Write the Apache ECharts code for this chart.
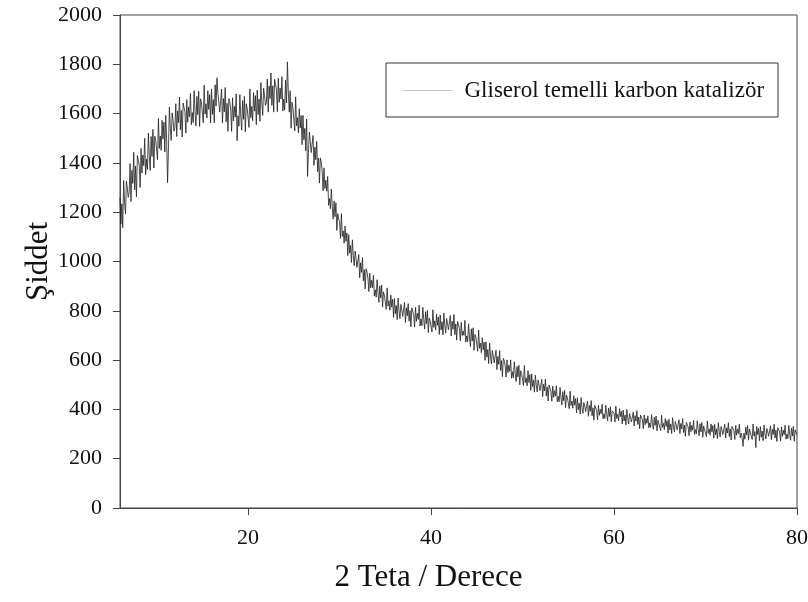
<!DOCTYPE html>
<html>
<head>
<meta charset="utf-8">
<script src="https://cdn.jsdelivr.net/npm/echarts@6/dist/echarts.min.js"></script>
<style>
html,body{margin:0;padding:0;background:#fff;}
#chart{width:808px;height:602px;}
</style>
</head>
<body>
<div id="chart"></div>
<script>
// Sampling grid of the diffractogram (2θ, degrees)
var startAngle = 6;
var stepAngle = 0.1;
var seriesName = 'Gliserol temelli karbon katalizör';
var xTickValues = [20, 40, 60, 80];
var yTickValues = [0, 200, 400, 600, 800, 1000, 1200, 1400, 1600, 1800, 2000];
// Intensity, one row per degree (10 samples each), 6° .. 80°
var intensity = [
1260,1152,1234,1137,1329,1241,1193,1326,1298,1260,
1280,1397,1243,1370,1317,1443,1290,1387,1263,1430,
1423,1391,1300,1459,1359,1432,1389,1500,1352,1415,
1373,1521,1430,1369,1507,1426,1536,1379,1508,1494,
1498,1413,1580,1459,1509,1451,1573,1497,1565,1444,
1593,1489,1320,1461,1627,1541,1491,1603,1571,1529,
1544,1640,1507,1611,1563,1667,1534,1613,1505,1643,
1638,1606,1521,1657,1565,1627,1587,1682,1555,1604,
1564,1693,1608,1550,1670,1596,1691,1548,1660,1645,
1647,1563,1716,1598,1640,1582,1693,1617,1677,1562,
1700,1597,1657,1563,1717,1631,1745,1683,1649,1606,
1609,1700,1562,1661,1607,1706,1567,1642,1528,1661,
1648,1614,1528,1664,1570,1629,1586,1680,1490,1591,
1549,1677,1591,1533,1653,1577,1670,1526,1640,1622,
1627,1544,1700,1583,1629,1571,1685,1610,1673,1555,
1695,1596,1659,1569,1726,1644,1593,1703,1672,1633,
1644,1740,1606,1712,1661,1765,1633,1713,1606,1739,
1733,1697,1608,1743,1646,1704,1659,1750,1611,1659,
1614,1735,1643,1810,1689,1606,1693,1541,1646,1622,
1616,1530,1668,1550,1584,1522,1620,1542,1592,1474,
1593,1494,1540,1449,1578,1345,1442,1525,1488,1442,
1444,1511,1390,1464,1413,1487,1365,1419,1318,1420,
1403,1365,1287,1380,1296,1330,1285,1345,1228,1255,
1214,1294,1224,1172,1246,1182,1238,1126,1194,1172,
1162,1094,1194,1102,1124,1074,1144,1082,1116,1024,
1109,1034,1065,996,1088,1024,983,1042,1012,976,
973,1028,934,995,956,1016,922,967,889,971,
957,932,878,953,893,924,894,944,860,885,
855,926,873,834,901,852,904,815,877,863,
860,806,893,819,841,802,864,815,847,773,
850,788,821,764,852,800,768,826,804,777,
780,834,753,812,780,829,758,801,735,812,
805,784,734,814,757,790,765,823,738,767,
740,814,764,726,796,748,801,712,771,759,
765,714,804,733,759,722,787,741,775,704,
783,722,756,702,791,740,710,769,749,723,
727,781,698,758,725,785,703,747,681,757,
750,729,678,753,700,718,700,761,673,698,
675,747,694,655,727,677,731,640,704,692,
690,636,722,648,669,630,691,642,673,599,
674,612,643,586,669,617,585,639,617,589,
591,640,561,615,583,638,558,598,533,607,
598,577,531,601,549,579,554,601,527,553,
528,593,546,513,574,532,579,500,557,546,
544,497,578,509,528,496,557,509,541,477,
544,492,518,470,539,500,471,519,499,476,
477,522,452,502,475,523,454,491,434,499,
492,474,433,495,449,476,454,496,431,453,
431,489,448,418,472,435,477,407,458,448,
445,403,474,416,434,405,455,417,444,386,
447,399,425,381,448,408,384,428,412,391,
394,434,372,416,392,436,374,407,356,416,
410,395,358,416,376,400,382,421,362,382,
363,417,380,354,405,371,411,350,394,386,
385,349,413,363,380,354,403,371,392,341,
397,353,377,337,400,363,341,383,368,349,
351,389,333,375,352,395,339,369,322,377,
373,358,322,378,338,363,344,374,325,345,
327,379,343,319,368,335,373,313,356,350,
349,314,376,327,343,318,363,331,355,304,
360,317,341,302,366,330,308,351,336,317,
319,358,302,343,321,363,306,336,291,347,
343,329,293,349,310,335,316,355,298,318,
301,354,318,293,342,309,347,287,332,325,
325,289,353,303,321,295,341,309,334,283,
340,297,321,282,346,310,288,331,316,298,
301,340,284,325,304,346,290,321,276,331,
328,314,278,335,295,320,302,340,284,304,
287,250,304,279,328,296,335,275,320,313,
313,278,341,292,310,245,331,298,323,273,
330,287,312,273,337,301,280,323,309,291,
294,333,277,319,298,340,284,316,270,326,
322,308,272,329,290,315,297,336,279,300,
282,335,299,275,324,292,331,271,317,310,
298
];

var seriesData = intensity.map(function (v, i) {
  return [Math.round((startAngle + i * stepAngle) * 10) / 10, v];
});

var serif = 'Liberation Serif, Times New Roman, serif';
var chart = echarts.init(document.getElementById('chart'), null, {renderer: 'canvas'});
chart.setOption({
  animation: false,
  backgroundColor: '#ffffff',
  grid: {
    left: 120, right: 11, top: 15, bottom: 94,
    show: true, borderColor: '#444', borderWidth: 1,
    outerBoundsMode: 'none'
  },
  legend: {
    left: 386, top: 63,
    padding: [16, 14, 15, 16],
    borderColor: '#333', borderWidth: 1,
    backgroundColor: '#fff',
    itemWidth: 50, itemHeight: 14,
    itemStyle: {opacity: 0},
    lineStyle: {color: '#c4c4c4', width: 1},
    textStyle: {fontFamily: serif, fontSize: 23, color: '#111', padding: [0, 0, 0, 7]},
    data: [seriesName]
  },
  xAxis: {
    type: 'value',
    min: startAngle, max: 80,
    name: '2 Teta / Derece',
    nameLocation: 'middle', nameGap: 54,
    nameMoveOverlap: false,
    nameTextStyle: {fontFamily: serif, fontSize: 31, color: '#111', padding: [0, 60, 0, 0]},
    axisLine: {show: true, lineStyle: {color: '#444', width: 1}},
    axisTick: {show: true, length: 7, lineStyle: {color: '#444'}, customValues: xTickValues},
    axisLabel: {fontFamily: serif, fontSize: 22, color: '#111', margin: 19, customValues: xTickValues},
    splitLine: {show: false}
  },
  yAxis: {
    type: 'value',
    min: 0, max: 2000, interval: 200,
    name: 'Şiddet',
    nameLocation: 'middle', nameGap: 66, nameRotate: 90,
    nameMoveOverlap: false,
    nameTextStyle: {fontFamily: serif, fontSize: 31, color: '#111'},
    axisLine: {show: true, lineStyle: {color: '#444', width: 1}},
    axisTick: {show: true, length: 7, lineStyle: {color: '#444'}, customValues: yTickValues},
    axisLabel: {
      fontFamily: serif, fontSize: 22, color: '#111', margin: 18, customValues: yTickValues,
      formatter: function (v) { return String(v); }
    },
    splitLine: {show: false}
  },
  series: [{
    name: seriesName,
    type: 'line',
    data: seriesData,
    symbol: 'none',
    showSymbol: false,
    lineStyle: {color: '#222222', width: 0.9, opacity: 0.9},
    clip: true
  }]
});
</script>
</body>
</html>
